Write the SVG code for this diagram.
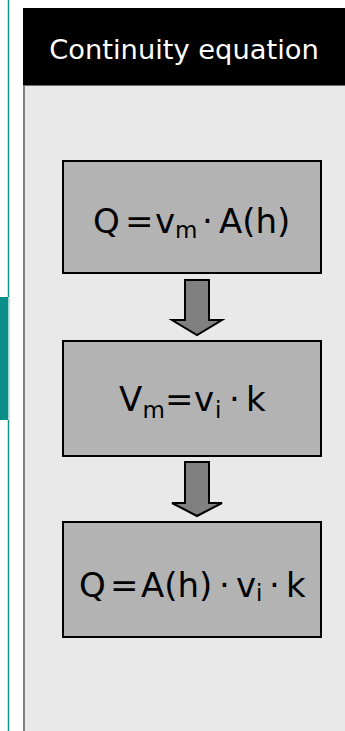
<svg xmlns="http://www.w3.org/2000/svg" width="345" height="731" viewBox="0 0 345 731">
<style>
.box{fill:#b3b3b3;stroke:#000;stroke-width:2}
.arr{fill:#808080;stroke:#000;stroke-width:2;stroke-linejoin:miter}
.f{font-family:"DejaVu Sans","Verdana",sans-serif;fill:#000;font-size:34px}
.s{font-size:23px}
.h{font-family:"DejaVu Sans","Verdana",sans-serif;fill:#fff;font-size:27.3px}
</style>
<rect x="0" y="0" width="345" height="731" fill="#fff"/>
<g id="sidebar">
<line x1="8.5" y1="0" x2="8.5" y2="731" stroke="#0e928b" stroke-width="1.5"/>
<rect x="0" y="297" width="8" height="123" fill="#0a8f88"/>
<rect x="8" y="297" width="1" height="123" fill="#a8d6d2"/>
</g>
<g id="panel">
<rect x="24" y="85" width="321" height="646" fill="#e9e9e9"/>
<line x1="24" y1="85" x2="24" y2="731" stroke="#7f7f7f" stroke-width="2"/>
<rect x="23" y="8" width="322" height="77" fill="#000"/>
<line x1="23" y1="85.5" x2="345" y2="85.5" stroke="#6f6f6f" stroke-width="1"/>
<text class="h" x="184" y="59" text-anchor="middle">Continuity equation</text>
</g>
<g id="connectors">
<polygon class="arr" points="185,280 209,280 209,320 222,320 197,335 172,320 185,320"/>
<polygon class="arr" points="185,462 209,462 209,503 222,503 197,516 172,503 185,503"/>
</g>
<g id="node1">
<rect class="box" x="63" y="161" width="258" height="112"/>
<text class="f" y="233"><tspan x="93">Q</tspan><tspan x="125">=</tspan><tspan x="155">v</tspan><tspan class="s" x="175" y="238">m</tspan><tspan x="202" y="233">·</tspan><tspan x="219">A(h)</tspan></text>
</g>
<g id="node2">
<rect class="box" x="63" y="341" width="258" height="115"/>
<text class="f" y="411"><tspan x="119">V</tspan><tspan class="s" x="142.5" y="418">m</tspan><tspan x="165" y="411">=</tspan><tspan x="194">v</tspan><tspan class="s" x="215" y="418">i</tspan><tspan x="229" y="411">·</tspan><tspan x="246">k</tspan></text>
</g>
<g id="node3">
<rect class="box" x="63" y="522" width="258" height="115"/>
<text class="f" y="597"><tspan x="79">Q</tspan><tspan x="110">=</tspan><tspan x="141">A(h)</tspan><tspan x="219">·</tspan><tspan x="236">v</tspan><tspan class="s" x="256" y="601">i</tspan><tspan x="269" y="597">·</tspan><tspan x="286">k</tspan></text>
</g>
</svg>
